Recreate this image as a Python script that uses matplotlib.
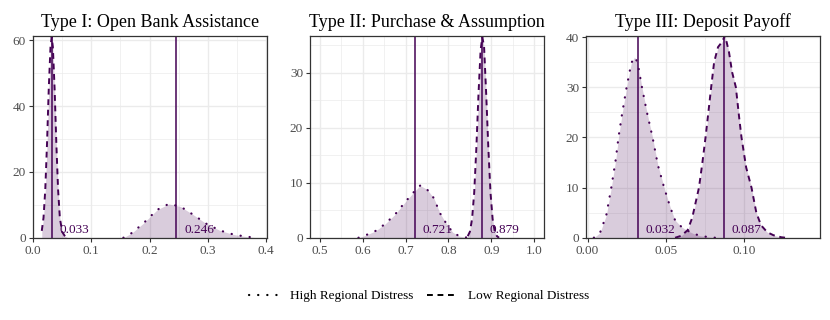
import matplotlib
matplotlib.use("Agg")
import matplotlib.pyplot as plt
from matplotlib.lines import Line2D
from matplotlib.ticker import MultipleLocator

plt.rcParams['font.family'] = ['Liberation Serif', 'DejaVu Serif']

# Type I: Open Bank Assistance
ob_high_x = [0.155, 0.170, 0.190, 0.213, 0.233, 0.253, 0.275, 0.298, 0.321, 0.344, 0.367, 0.385]
ob_high_y = [0.0, 1.5, 4.5, 8.5, 10.3, 9.5, 7.0, 4.2, 2.2, 1.0, 0.3, 0.0]
ob_low_x = [0.015, 0.018, 0.021, 0.024, 0.027, 0.030, 0.032, 0.034, 0.037, 0.040,
            0.043, 0.046, 0.050, 0.055, 0.060]
ob_low_y = [2.1, 6.1, 14.6, 28.6, 45.4, 58.1, 61.0, 58.1, 45.4, 28.6,
            14.6, 6.1, 1.8, 0.4, 0.0]
ob_means = [0.246, 0.033]

# Type II: Purchase & Assumption
pa_high_x = [0.590, 0.605, 0.629, 0.652, 0.676, 0.699, 0.719, 0.734, 0.750, 0.766,
             0.780, 0.790, 0.800, 0.810, 0.825, 0.845]
pa_high_y = [0.0, 0.4, 1.2, 2.5, 4.3, 6.5, 8.3, 9.5, 8.8, 7.2,
             4.5, 3.2, 2.0, 1.0, 0.3, 0.0]
pa_low_x = [0.845, 0.850, 0.855, 0.860, 0.865, 0.870, 0.875, 0.879, 0.883, 0.888,
            0.893, 0.898, 0.903, 0.908, 0.913, 0.918]
pa_low_y = [0.3, 1.1, 3.4, 8.2, 16.3, 26.1, 34.2, 36.5, 34.8, 26.1,
            16.3, 8.2, 3.4, 1.1, 0.3, 0.0]
pa_means = [0.721, 0.879]

# Type III: Deposit Payoff
dp_high_x = [0.004, 0.008, 0.012, 0.0152, 0.018, 0.0198, 0.022, 0.025, 0.028, 0.030,
             0.032, 0.0348, 0.038, 0.0416, 0.045, 0.049, 0.053, 0.056, 0.060, 0.064,
             0.068, 0.072, 0.078, 0.082]
dp_high_y = [0.0, 1.0, 4.5, 10.0, 15.5, 20.0, 24.5, 30.0, 34.8, 36.0,
             35.0, 30.0, 25.0, 20.0, 14.5, 10.0, 6.0, 3.5, 2.2, 1.4,
             0.8, 0.4, 0.1, 0.0]
dp_low_x = [0.056, 0.060, 0.064, 0.067, 0.0713, 0.0735, 0.0755, 0.0775, 0.0791, 0.081,
            0.0835, 0.086, 0.088, 0.0905, 0.0925, 0.0949, 0.097, 0.0985, 0.1015, 0.1049,
            0.108, 0.111, 0.115, 0.119, 0.124, 0.127]
dp_low_y = [0.0, 0.4, 1.5, 4.0, 10.0, 15.0, 20.0, 25.5, 30.0, 35.0,
            38.0, 39.0, 40.3, 37.0, 33.0, 30.0, 24.0, 20.0, 14.0, 10.0,
            5.0, 2.5, 1.1, 0.5, 0.1, 0.0]
dp_means = [0.032, 0.087]

titles = ["Type I: Open Bank Assistance", "Type II: Purchase & Assumption", "Type III: Deposit Payoff"]
mean_labels = [["0.246", "0.033"], ["0.721", "0.879"], ["0.032", "0.087"]]

panels = [
    (ob_high_x, ob_high_y, ob_low_x, ob_low_y, ob_means),
    (pa_high_x, pa_high_y, pa_low_x, pa_low_y, pa_means),
    (dp_high_x, dp_high_y, dp_low_x, dp_low_y, dp_means),
]

xlims = [(0.0, 0.401), (0.477, 1.022), (-0.001, 0.1485)]
ylims = [61.5, 36.8, 40.3]
xmajor = [0.1, 0.1, 0.05]
ymajor = [20, 10, 10]

purple = "#440154"
dotted = (0, (0.1, 4.0))
dashed = (0, (3.0, 2.4))

fig = plt.figure(figsize=(8.3, 3.2), dpi=100)
lefts = [0.0398, 0.3735, 0.706]

for i, (hx, hy, lx, ly, means) in enumerate(panels):
    ax = fig.add_axes([lefts[i], 0.257, 0.2815, 0.632])
    ax.fill_between(hx, hy, 0, color=purple, alpha=0.2, lw=0)
    ax.fill_between(lx, ly, 0, color=purple, alpha=0.2, lw=0)
    ax.plot(hx, hy, color=purple, lw=1.6, linestyle=dotted, dash_capstyle='round')
    ax.plot(lx, ly, color=purple, lw=1.4, linestyle=dashed)
    for m, lab in zip(means, mean_labels[i]):
        ax.axvline(m, color=purple, lw=1.1)
        ax.annotate(lab, xy=(m, 0), xytext=(5.5, 1.2), textcoords='offset points',
                    ha='left', va='bottom', fontsize=9.5, color=purple)
    ax.set_xlim(*xlims[i])
    ax.set_ylim(0, ylims[i])
    ax.xaxis.set_major_locator(MultipleLocator(xmajor[i]))
    ax.xaxis.set_minor_locator(MultipleLocator(xmajor[i] / 2))
    ax.yaxis.set_major_locator(MultipleLocator(ymajor[i]))
    ax.yaxis.set_minor_locator(MultipleLocator(ymajor[i] / 2))
    if i == 2:
        ax.xaxis.set_major_formatter(matplotlib.ticker.FormatStrFormatter('%.2f'))
    else:
        ax.xaxis.set_major_formatter(matplotlib.ticker.FormatStrFormatter('%.1f'))
    ax.grid(True, which='major', color='#ebebeb', lw=1.0)
    ax.grid(True, which='minor', color='#ebebeb', lw=0.5)
    ax.set_axisbelow(True)
    for s in ax.spines.values():
        s.set_color('#333333')
        s.set_linewidth(0.9)
    ax.tick_params(which='major', length=3, width=0.8, color='#333333',
                   labelsize=9.5, labelcolor='#4d4d4d', pad=2)
    ax.tick_params(which='minor', length=0)
    ax.set_title(titles[i], fontsize=13, pad=6)

handles = [Line2D([], [], color='black', lw=1.6, linestyle=dotted, dash_capstyle='round'),
           Line2D([], [], color='black', lw=1.4, linestyle=dashed)]
fig.legend(handles, ["High Regional Distress", "Low Regional Distress"], loc='center',
           bbox_to_anchor=(0.505, 0.075), ncol=2, frameon=False, fontsize=9.5,
           handlelength=2.2, columnspacing=1.0, handletextpad=0.9)

fig.savefig("out.png", dpi=100)
